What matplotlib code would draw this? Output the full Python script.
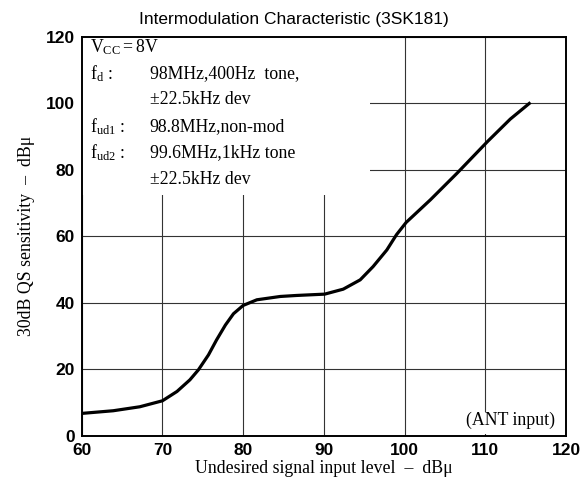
import matplotlib
matplotlib.use("Agg")
import matplotlib.pyplot as plt
from matplotlib.patches import Rectangle

plt.rcParams['mathtext.fontset'] = 'custom'
plt.rcParams['mathtext.rm'] = 'Liberation Serif'
plt.rcParams['mathtext.it'] = 'Liberation Serif'

title = "Intermodulation Characteristic (3SK181)"
x_label = "Undesired signal input level  \u2013  dB\u03bc"
y_label = "30dB QS sensitivity  \u2013  dB\u03bc"
x_ticks = [60, 70, 80, 90, 100, 110, 120]
y_ticks = [0, 20, 40, 60, 80, 100, 120]

curve_x = [60, 63.9, 67.2, 70, 71.8, 73.4, 74.45, 75.7, 76.7, 77.8, 78.8, 80,
           81.7, 84.6, 86.6, 90.1, 92.4, 94.5, 96.1, 97.8, 99.0, 100.2, 103.2,
           106.5, 110.3, 113.1, 115.6]
curve_y = [6.7, 7.5, 8.7, 10.5, 13.3, 16.8, 19.8, 24.3, 28.8, 33.3, 36.7, 39.2,
           40.9, 41.9, 42.2, 42.6, 44.1, 46.9, 50.9, 55.9, 60.5, 64.2, 71,
           79, 88.6, 95.3, 100.3]

cond_labels = [r"V$_{\mathrm{CC}}$$=$8V", r"f$_{\mathrm{d}}$ :", "",
               r"f$_{\mathrm{ud1}}$ :", r"f$_{\mathrm{ud2}}$ :", ""]
cond_values = ["", "98MHz,400Hz  tone,", "\u00b122.5kHz dev",
               "98.8MHz,non-mod", "99.6MHz,1kHz tone", "\u00b122.5kHz dev"]
cond_y = [116.8, 108.9, 101.2, 93.0, 85.1, 77.0]
note = "(ANT input)"

fig = plt.figure(figsize=(5.88, 4.83), dpi=100)
ax = fig.add_axes([0.139, 0.098, 0.9626 - 0.139, 0.9234 - 0.098])
ax.set_xlim(60, 120)
ax.set_ylim(0, 120)
ax.set_xticks(x_ticks)
ax.set_yticks(y_ticks)
ax.set_xticklabels([str(v) for v in x_ticks], fontfamily='Liberation Sans',
                   fontweight='bold', fontsize=12.5)
ax.set_yticklabels([str(v) for v in y_ticks], fontfamily='Liberation Sans',
                   fontweight='bold', fontsize=12.5)
ax.tick_params(length=0, pad=5)
ax.grid(True, color='#333333', linewidth=0.8, zorder=0)
ax.set_axisbelow(True)
for s in ax.spines.values():
    s.set_linewidth(1.4)
    s.set_zorder(5)

ax.add_patch(Rectangle((60, 72.5), 35.7, 47.5, facecolor='white',
                       edgecolor='none', zorder=1))
ax.add_patch(Rectangle((106.3, 0.5), 13.3, 6.5, facecolor='white',
                       edgecolor='none', zorder=1))

ax.plot(curve_x, curve_y, color='black', linewidth=2.3, zorder=3,
        solid_capstyle='butt', solid_joinstyle='round')

for lab, val, yy in zip(cond_labels, cond_values, cond_y):
    if lab:
        ax.text(61.0, yy, lab, fontfamily='Liberation Serif', fontsize=12.8,
                va='center', ha='left', zorder=4)
    if val:
        ax.text(68.4, yy, val, fontfamily='Liberation Serif', fontsize=12.8,
                va='center', ha='left', zorder=4)

ax.text(118.6, 4.6, note, fontfamily='Liberation Serif', fontsize=12.8,
        va='center', ha='right', zorder=4)

ax.set_xlabel(x_label, fontfamily='Liberation Serif', fontsize=12.8, labelpad=2)
ax.set_ylabel(y_label, fontfamily='Liberation Serif', fontsize=12.8, labelpad=8)
fig.text(0.5, 0.96, title, fontfamily='Liberation Sans', fontsize=12.5,
         ha='center', va='center')

fig.savefig("out.png", dpi=100)
